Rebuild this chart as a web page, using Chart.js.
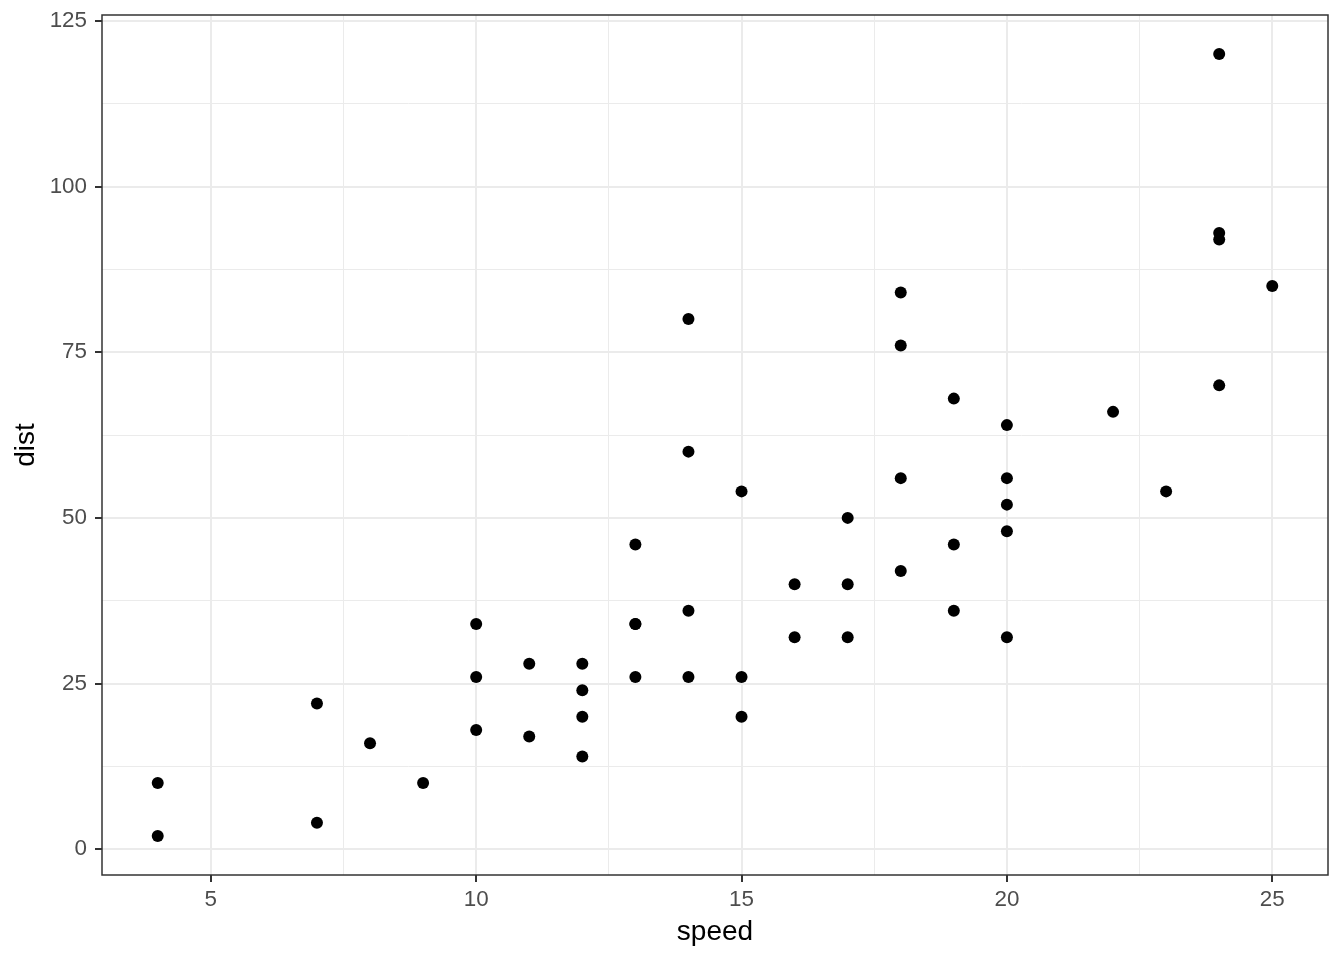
<!DOCTYPE html>
<html>
<head>
<meta charset="utf-8">
<script src="https://cdn.jsdelivr.net/npm/chart.js@4/dist/chart.umd.min.js"></script>
<style>
  html, body { margin: 0; padding: 0; background: #ffffff; }
  #wrap { width: 1344px; height: 960px; }
</style>
</head>
<body>
<div id="wrap"><canvas id="c" width="1344" height="960"></canvas></div>
<script>
// cars data (speed vs stopping distance)
const speed = [4,4,7,7,8,9,10,10,10,11,11,12,12,12,12,13,13,13,13,14,14,14,14,15,15,15,16,16,17,17,17,18,18,18,18,19,19,19,20,20,20,20,20,22,23,24,24,24,24,25];
const dist  = [2,10,4,22,16,10,18,26,34,17,28,14,20,24,28,26,34,34,46,26,36,60,80,20,26,54,32,40,32,40,50,42,56,76,84,36,46,68,32,48,52,56,64,66,54,70,92,93,120,85];

// grid / tick positions (major labelled, minor unlabelled)
const xTicks = [5,7.5,10,12.5,15,17.5,20,22.5,25];
const yTicks = [0,12.5,25,37.5,50,62.5,75,87.5,100,112.5,125];
const xMajor = [5,10,15,20,25];
const yMajor = [0,25,50,75,100,125];

const points = speed.map((s, i) => ({ x: s, y: dist[i] }));

const FONT = '"Liberation Sans", Arial, Helvetica, sans-serif';

const isMajor = (arr, v) => arr.some(m => Math.abs(m - v) < 1e-9);

const panelBorder = {
  id: 'panelBorder',
  afterDraw(chart) {
    const a = chart.chartArea, ctx = chart.ctx;
    ctx.save();
    ctx.strokeStyle = '#333333';
    ctx.lineWidth = 1.5;
    ctx.strokeRect(a.left, a.top, a.right - a.left, a.bottom - a.top);
    ctx.restore();
  }
};

function gridOpts(major) {
  return {
    display: true,
    drawOnChartArea: true,
    drawTicks: true,
    tickLength: 7,
    color: '#ebebeb',
    lineWidth: ctx => isMajor(major, ctx.tick.value) ? 2 : 1,
    tickColor: ctx => isMajor(major, ctx.tick.value) ? '#333333' : 'rgba(0,0,0,0)',
    tickWidth: 2
  };
}

new Chart(document.getElementById('c'), {
  type: 'scatter',
  data: {
    datasets: [{
      data: points,
      backgroundColor: '#000000',
      borderWidth: 0,
      pointRadius: 6,
      pointHoverRadius: 6
    }]
  },
  plugins: [panelBorder],
  options: {
    responsive: false,
    animation: false,
    events: [],
    layout: { padding: { top: 15, right: 16, left: 0, bottom: 0 } },
    plugins: { legend: { display: false }, tooltip: { enabled: false } },
    scales: {
      x: {
        type: 'linear',
        min: 2.95,
        max: 26.05,
        afterBuildTicks: s => { s.ticks = xTicks.map(v => ({ value: v })); },
        afterFit: s => { s.height = 85; s.paddingLeft = 0; s.paddingRight = 0; s.paddingTop = 0; s.paddingBottom = 0; },
        border: { display: false },
        grid: gridOpts(xMajor),
        ticks: {
          autoSkip: false,
          maxRotation: 0,
          padding: 4,
          color: '#4d4d4d',
          font: { family: FONT, size: 22.4 },
          callback: v => isMajor(xMajor, v) ? String(v) : ''
        },
        title: {
          display: true,
          text: 'speed',
          color: '#000000',
          font: { family: FONT, size: 28 },
          padding: { top: 11, bottom: 11 }
        }
      },
      y: {
        type: 'linear',
        min: -3.9,
        max: 125.9,
        afterBuildTicks: s => { s.ticks = yTicks.map(v => ({ value: v })); },
        afterFit: s => { s.width = 102; s.paddingTop = 0; s.paddingBottom = 0; s.paddingLeft = 0; s.paddingRight = 0; },
        border: { display: false },
        grid: gridOpts(yMajor),
        ticks: {
          autoSkip: false,
          padding: 8,
          color: '#4d4d4d',
          font: { family: FONT, size: 22.4 },
          callback: v => isMajor(yMajor, v) ? String(v) : ''
        },
        title: {
          display: true,
          text: 'dist',
          color: '#000000',
          font: { family: FONT, size: 28 },
          padding: { top: 9, bottom: 9 }
        }
      }
    }
  }
});
</script>
</body>
</html>
